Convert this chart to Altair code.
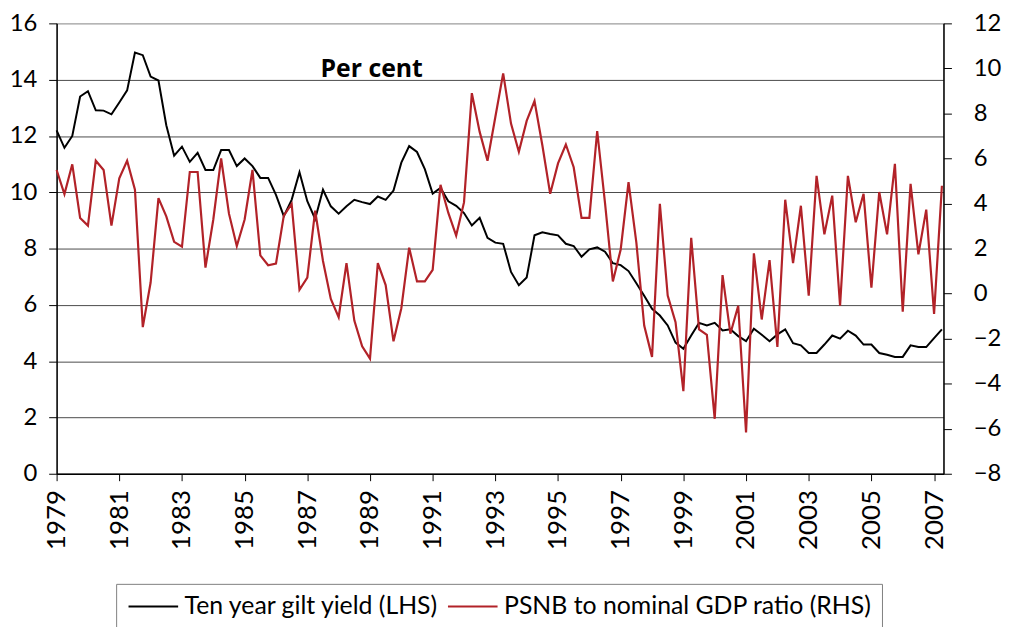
import altair as alt
import pandas as pd

# Quarterly observations, 1979 Q1 .. 2007 Q2
start_year = 1979
gilt_yield = [
    12.20, 11.58, 12.00, 13.40, 13.59, 12.91, 12.90, 12.77, 13.19, 13.62,
    14.96, 14.87, 14.11, 13.97, 12.38, 11.30, 11.62, 11.08, 11.40, 10.79,
    10.79, 11.50, 11.50, 10.93, 11.20, 10.93, 10.51, 10.51, 9.91, 9.15,
    9.73, 10.71, 9.68, 9.05, 10.09, 9.50, 9.24, 9.50, 9.73, 9.65,
    9.58, 9.85, 9.73, 10.06, 11.05, 11.64, 11.43, 10.82, 9.95, 10.15,
    9.68, 9.52, 9.26, 8.82, 9.09, 8.38, 8.21, 8.17, 7.17, 6.70,
    6.97, 8.47, 8.58, 8.52, 8.47, 8.17, 8.09, 7.71, 7.97, 8.04,
    7.89, 7.48, 7.41, 7.20, 6.77, 6.32, 5.86, 5.62, 5.27, 4.66,
    4.44, 4.91, 5.36, 5.27, 5.36, 5.09, 5.13, 4.89, 4.71, 5.15,
    4.94, 4.71, 4.95, 5.13, 4.64, 4.56, 4.29, 4.29, 4.59, 4.91,
    4.80, 5.08, 4.91, 4.59, 4.59, 4.29, 4.23, 4.15, 4.15, 4.56,
    4.50, 4.50, 4.82, 5.13,
]
psnb_ratio = [
    5.49, 4.42, 5.74, 3.36, 3.02, 5.90, 5.49, 3.02, 5.12, 5.90,
    4.61, -1.49, 0.49, 4.24, 3.43, 2.30, 2.08, 5.40, 5.40, 1.15,
    3.29, 6.00, 3.55, 2.11, 3.29, 5.49, 1.70, 1.26, 1.33, 3.46,
    3.98, 0.17, 0.71, 3.68, 1.45, -0.24, -1.05, 1.35, -1.20, -2.34,
    -2.89, 1.35, 0.38, -2.12, -0.65, 2.04, 0.54, 0.54, 1.05, 4.83,
    3.58, 2.58, 4.05, 8.90, 7.18, 5.90, 7.84, 9.78, 7.55, 6.30,
    7.67, 8.55, 6.59, 4.43, 5.78, 6.62, 5.61, 3.36, 3.36, 7.22,
    4.02, 0.54, 1.96, 4.95, 2.26, -1.42, -2.81, 3.99, -0.09, -1.27,
    -4.33, 2.48, -1.59, -1.83, -5.56, 0.82, -1.78, -0.54, -6.17, 1.79,
    -1.15, 1.49, -2.37, 4.17, 1.35, 3.90, -0.09, 5.23, 2.63, 4.35,
    -0.54, 5.23, 3.17, 4.43, 0.26, 4.51, 2.63, 5.76, -0.80, 4.87,
    1.74, 3.73, -0.90, 4.79,
]
year_ticks = list(range(1979, 2008, 2))
left_ticks = list(range(0, 17, 2))
right_ticks = list(range(-8, 13, 2))
series_names = ["Ten year gilt yield (LHS)", "PSNB to nominal GDP ratio (RHS)"]
series_colors = ["#000000", "#b22228"]
annotation = "Per cent"

years = [start_year + i / 4 for i in range(len(gilt_yield))]
df = pd.DataFrame({
    "year": years, "gilt": gilt_yield, "psnb": psnb_ratio,
    "s_gilt": series_names[0], "s_psnb": series_names[1],
})

FONT = "Lato"

x_enc = alt.X(
    "year:Q",
    scale=alt.Scale(domain=[1979, 2007.3], nice=False, zero=False),
    axis=alt.Axis(
        values=year_ticks, format="d", labelAngle=-90, title=None, grid=False,
        tickSize=7, labelPadding=9, labelFontSize=26,
    ),
)

color_scale = alt.Scale(domain=series_names, range=series_colors)
legend = alt.Legend(
    title=None, orient="none", legendX=60, legendY=565, direction="horizontal",
    strokeColor="#7f7f7f", padding=10, symbolType="M-1,0H4", symbolSize=400,
    symbolStrokeWidth=2, labelFontSize=25, labelFont=FONT, labelOffset=34,
    columnPadding=4, labelLimit=500, labelColor="#000000",
)

gilt = alt.Chart(df).mark_line(strokeWidth=2).encode(
    x=x_enc,
    y=alt.Y(
        "gilt:Q",
        scale=alt.Scale(domain=[0, 16], nice=False),
        axis=alt.Axis(
            values=left_ticks, title=None, orient="left", tickSize=8, labelPadding=12,
            grid=True,
            gridColor={"condition": {"test": "datum.value == 16", "value": "#aaaaaa"},
                       "value": "#4a4a4a"},
        ),
    ),
    color=alt.Color("s_gilt:N", scale=color_scale, legend=legend),
)

psnb = alt.Chart(df).mark_line(strokeWidth=2.2).encode(
    x=x_enc,
    y=alt.Y(
        "psnb:Q",
        scale=alt.Scale(domain=[-8, 12], nice=False),
        axis=alt.Axis(values=right_ticks, title=None, orient="right", grid=False,
                      tickSize=8, labelPadding=22),
    ),
    color=alt.Color("s_psnb:N", scale=color_scale, legend=legend),
)

label = alt.Chart(pd.DataFrame({"t": [annotation]})).mark_text(
    font="Open Sans", fontSize=25, fontWeight="bold", align="left", baseline="alphabetic",
    color="#000000",
).encode(text="t:N", x=alt.value(266), y=alt.value(54))

chart = (
    alt.layer(gilt, psnb, label)
    .resolve_scale(y="independent")
    .properties(
        width=894, height=454,
        autosize=alt.AutoSizeParams(type="none"),
        padding={"left": 49, "top": 13, "right": 60, "bottom": 152},
    )
    .configure_view(stroke="#aaaaaa", strokeWidth=1)
    .configure_axis(
        domainColor="#000000", domainWidth=1.5, tickColor="#000000", tickWidth=1,
        labelColor="#000000", labelFont=FONT, labelFontSize=24,
    )
)

chart.save("out.html", embed_options={"renderer": "svg", "actions": False})
